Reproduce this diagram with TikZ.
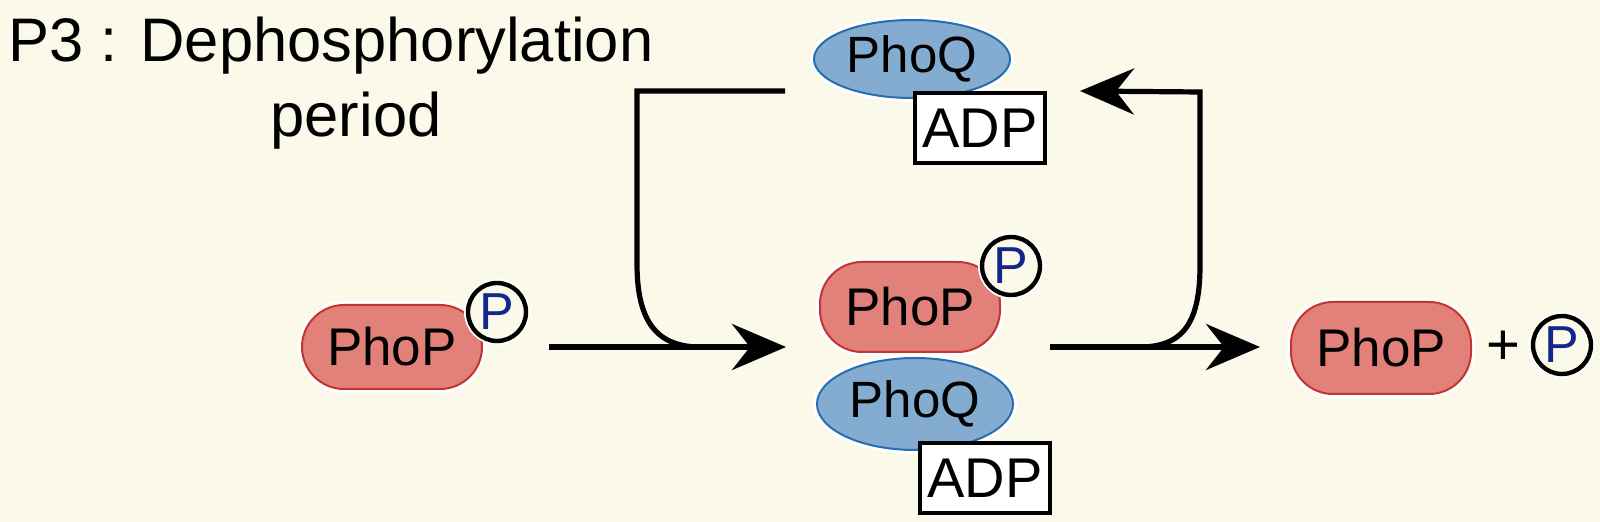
\documentclass[tikz,border=0pt]{standalone}
\usepackage{fontspec}
\setmainfont{Liberation Sans}
\usetikzlibrary{shapes.geometric, arrows.meta, positioning}

\definecolor{bgcream}{RGB}{251,249,233}
\definecolor{phopfill}{RGB}{226,128,122}
\definecolor{phopdraw}{RGB}{196,52,48}
\definecolor{phoqfill}{RGB}{132,172,208}
\definecolor{phoqdraw}{RGB}{40,110,175}
\definecolor{pblue}{RGB}{20,40,140}

\begin{document}
\begin{tikzpicture}[x=0.5pt, y=-0.5pt,
    phop/.style={rectangle, rounded corners=21pt, minimum width=90pt, minimum height=42pt, inner sep=0pt, draw=phopdraw, line width=1pt, fill=phopfill, font=\fontsize{26.5}{30}\selectfont, preaction={draw=white, line width=4pt}},
    phoq/.style={ellipse, minimum width=98pt, minimum height=42pt, inner sep=0pt, draw=phoqdraw, line width=1pt, fill=phoqfill, font=\fontsize{25.5}{30}\selectfont, preaction={draw=white, line width=4pt}},
    adp/.style={rectangle, minimum width=65pt, minimum height=35pt, inner sep=0pt, draw=black, line width=2pt, fill=white, font=\fontsize{28}{30}\selectfont},
    phos/.style={circle, minimum size=29pt, inner sep=0pt, draw=black, line width=2.2pt, fill=bgcream, text=pblue, font=\fontsize{26}{30}\selectfont, preaction={draw=white, line width=4pt}},
    title/.style={inner sep=0pt, font=\fontsize{30.75}{36}\selectfont},
    line/.style={line width=2.6pt},
    flow/.style={line width=2.6pt, -{Stealth[length=27pt, width=23pt, inset=9pt]}}
]
    \fill[bgcream] (0,0) rectangle (1600,522);
    \useasboundingbox (0,0) rectangle (1600,522);

    % Title
    \node[title, anchor=base west] (head) at (8,62) {P3 : Dephosphorylation};
    \node[title, anchor=base] (headb) at (356,137) {period};

    % Left: PhoP-P
    \node[phop] (lphop) at (392,347) {PhoP};
    \node[phos] (lp) at (497,312) {P};

    % Middle: PhoP-P / PhoQ-ADP complex
    \node[phop, minimum height=45pt] (mphop) at (910,307) {PhoP};
    \node[phos] (mp) at (1011,266) {P};
    \node[phoq, minimum height=46pt] (mphoq) at (915,404) {PhoQ};
    \node[adp] (madp) at (985,478) {ADP};

    % Top: PhoQ-ADP
    \node[phoq, minimum height=39pt] (tphoq) at (912,59) {PhoQ};
    \node[adp] (tadp) at (980,128) {ADP};

    % Right: PhoP + P
    \node[phop, minimum height=46pt] (rphop) at (1381,348) {PhoP};
    \node[font=\fontsize{29}{30}\selectfont] (plus) at (1503,348) {+};
    \node[phos] (rp) at (1562,345) {P};

    % Arrows
    \coordinate (join1) at (700,347);
    \coordinate (split2) at (1140,347);
    \draw[flow] ([xshift=10.5pt]lp.east |- lphop.east) -- ([xshift=-16.5pt]mphop.west |- lphop.east);
    \draw[line] ([xshift=-14pt]tphoq.west |- tadp.north) -- ++(-148,0) -- ++(0,173)
        .. controls +(0,55) and +(-45,0) .. (join1);
    \draw[flow] ([xshift=4pt]mp.east |- lphop.east) -- ([xshift=-15pt]rphop.west |- lphop.east);
    \draw[flow] (split2) .. controls +(45,0) and +(0,55) .. ++(60,-82) -- ++(0,-173)
        -- ([xshift=16.5pt]tadp.north east);

\end{tikzpicture}
\end{document}
